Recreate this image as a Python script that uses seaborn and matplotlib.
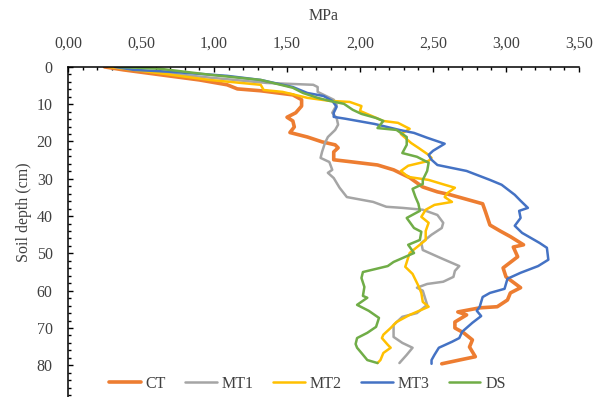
import numpy as np
import pandas as pd
import matplotlib
matplotlib.use("Agg")
import matplotlib.pyplot as plt
import seaborn as sns
from matplotlib.ticker import MultipleLocator, FuncFormatter

# penetration resistance (MPa) against soil depth (cm)
ct_mpa = [0.25, 0.38, 0.63, 0.90, 1.09, 1.16, 1.32, 1.54, 1.60, 1.60, 1.56, 1.50, 1.54, 1.55, 1.52,
          1.64, 1.74, 1.83, 1.85, 1.82, 1.82, 1.93, 2.12, 2.23, 2.34, 2.43, 2.53, 2.62, 2.84, 2.86,
          2.89, 2.96, 3.03, 3.12, 3.05, 3.08, 2.98, 3.00, 3.10, 3.03, 3.01, 2.94, 2.82, 2.67, 2.73,
          2.65, 2.65, 2.71, 2.77, 2.75, 2.79, 2.68, 2.56]
ct_depth = [0, 0.8, 2.1, 3.5, 4.8, 5.9, 6.4, 7.5, 8.8, 10.5, 12.3, 13.5, 14.5, 16.1, 17.6,
            18.8, 20.1, 20.9, 21.7, 22.8, 24.9, 25.4, 26.3, 27.6, 29.7, 32.2, 33.5, 34.3, 36.7, 38.9,
            42.4, 44.0, 45.5, 47.7, 48.3, 50.9, 53.9, 56.3, 59.2, 60.6, 62.5, 64.3, 64.6, 65.7, 66.5,
            68.4, 70.0, 71.3, 73.2, 75.1, 77.7, 78.6, 79.6]

mt1_mpa = [0.30, 0.55, 0.95, 1.36, 1.68, 1.71, 1.71, 1.82, 1.84, 1.81, 1.84, 1.85, 1.83, 1.78,
           1.76, 1.74, 1.73, 1.79, 1.81, 1.78, 1.82, 1.86, 1.91, 2.09, 2.18, 2.29, 2.43, 2.53,
           2.57, 2.56, 2.49, 2.42, 2.43, 2.55, 2.68, 2.65, 2.64, 2.57, 2.46, 2.39, 2.43, 2.46,
           2.39, 2.29, 2.23, 2.23, 2.29, 2.36, 2.32, 2.27]
mt1_depth = [0, 1.2, 2.8, 4.3, 4.8, 5.4, 6.7, 8.8, 10.2, 12.3, 13.7, 15.5, 16.9, 18.8,
             20.4, 22.8, 24.4, 25.5, 27.6, 28.4, 29.8, 32.4, 34.9, 36.2, 37.5, 37.8, 38.3, 39.7,
             41.8, 43.2, 45.0, 47.2, 49.1, 51.2, 53.4, 54.7, 56.3, 57.6, 58.2, 59.2, 60.0, 63.8,
             66.0, 67.0, 69.2, 72.4, 74.0, 75.3, 77.2, 79.4]

mt2_mpa = [0.28, 0.55, 0.97, 1.32, 1.34, 1.47, 1.64, 1.79, 1.93, 2.01, 2.00, 2.16, 2.26, 2.34,
           2.28, 2.35, 2.40, 2.47, 2.49, 2.47, 2.33, 2.28, 2.33, 2.47, 2.58, 2.65, 2.60, 2.58,
           2.63, 2.51, 2.45, 2.42, 2.47, 2.45, 2.45, 2.40, 2.34, 2.31, 2.36, 2.40, 2.42, 2.43,
           2.47, 2.34, 2.25, 2.21, 2.16, 2.15, 2.19, 2.21, 2.16, 2.14, 2.12]
mt2_depth = [0, 1.3, 3.5, 4.8, 6.2, 6.7, 8.3, 9.1, 9.4, 10.5, 11.8, 14.5, 15.0, 16.6,
             18.0, 20.4, 21.7, 23.6, 24.4, 25.2, 26.5, 27.9, 29.5, 30.3, 31.6, 32.4, 33.8, 34.9,
             36.2, 37.0, 38.3, 40.2, 41.8, 44.0, 46.4, 48.0, 49.9, 53.6, 55.5, 58.7, 60.6, 63.0,
             64.3, 66.5, 68.4, 70.0, 71.8, 72.7, 74.5, 75.3, 76.7, 78.6, 79.4]

mt3_mpa = [0.32, 0.45, 0.70, 1.09, 1.32, 1.54, 1.64, 1.75, 1.81, 1.84, 1.82, 1.82, 1.90, 2.10,
           2.27, 2.37, 2.46, 2.58, 2.50, 2.47, 2.49, 2.53, 2.73, 2.89, 2.97, 3.06, 3.10, 3.15,
           3.09, 3.10, 3.06, 3.11, 3.23, 3.28, 3.29, 3.22, 3.10, 3.01, 2.99, 2.89, 2.84, 2.82,
           2.80, 2.83, 2.77, 2.70, 2.68, 2.63, 2.54, 2.51, 2.49, 2.49]
mt3_depth = [0, 0.8, 1.3, 2.4, 3.5, 5.4, 7.0, 7.8, 9.1, 10.7, 12.3, 13.4, 13.9, 15.3,
             16.9, 17.7, 19.0, 20.6, 22.5, 23.6, 24.9, 26.3, 27.9, 30.3, 31.6, 34.3, 35.9, 37.8,
             38.6, 40.5, 42.6, 44.5, 47.2, 48.5, 51.7, 53.4, 55.2, 56.8, 59.5, 60.6, 61.7, 64.3,
             65.4, 66.8, 68.6, 71.0, 72.7, 73.7, 75.3, 77.2, 78.6, 79.6]

ds_mpa = [0.35, 0.63, 0.97, 1.32, 1.54, 1.61, 1.71, 1.79, 1.89, 1.95, 2.01, 2.11, 2.16, 2.12,
          2.25, 2.32, 2.32, 2.29, 2.39, 2.47, 2.46, 2.43, 2.43, 2.36, 2.38, 2.40, 2.41, 2.32,
          2.37, 2.42, 2.41, 2.33, 2.37, 2.23, 2.19, 2.02, 2.01, 2.03, 2.02, 2.05, 1.98, 2.06,
          2.13, 2.11, 2.05, 1.98, 1.97, 1.98, 2.01, 2.05, 2.12]
ds_depth = [0, 0.5, 2.1, 3.5, 5.6, 7.0, 8.3, 9.1, 9.9, 11.5, 12.6, 13.7, 14.5, 16.4,
            16.9, 18.8, 20.9, 23.1, 24.1, 25.7, 27.9, 30.3, 31.4, 32.7, 34.9, 36.7, 38.6, 40.5,
            43.2, 44.2, 46.4, 47.7, 49.9, 52.3, 53.4, 55.0, 56.6, 59.0, 61.4, 61.9, 63.8, 65.4,
            67.3, 69.7, 71.3, 72.7, 74.3, 75.3, 76.7, 78.6, 79.4]

treatments = ["CT", "MT1", "MT2", "MT3", "DS"]
colors = ["#ED7D31", "#A5A5A5", "#FFC000", "#4472C4", "#70AD47"]
widths = [2.6, 1.8, 1.8, 1.8, 1.8]

series = {
    "CT": (ct_mpa, ct_depth),
    "MT1": (mt1_mpa, mt1_depth),
    "MT2": (mt2_mpa, mt2_depth),
    "MT3": (mt3_mpa, mt3_depth),
    "DS": (ds_mpa, ds_depth),
}

sns.set_style("ticks")
plt.rcParams["font.family"] = ["Liberation Serif", "DejaVu Serif"]
text_col = "#404040"

fig = plt.figure(figsize=(6.0, 3.97), dpi=100)
# axes runs past the bottom edge, like the cropped original
ax = fig.add_axes([68 / 600, -0.108, 511 / 600, 0.9395])

for name, col, lw in zip(treatments, colors, widths):
    x, y = series[name]
    df = pd.DataFrame({"MPa": x, "depth": y})
    sns.lineplot(data=df, x="MPa", y="depth", sort=False, estimator=None,
                 color=col, linewidth=lw, label=name, ax=ax)

ax.set_xlim(0, 3.5)
ax.set_ylim(100, 0)
ax.xaxis.tick_top()
ax.xaxis.set_label_position("top")
ax.xaxis.set_major_locator(MultipleLocator(0.5))
ax.xaxis.set_minor_locator(MultipleLocator(0.1))
ax.yaxis.set_major_locator(MultipleLocator(10))
ax.yaxis.set_minor_locator(MultipleLocator(2))
ax.xaxis.set_major_formatter(FuncFormatter(lambda v, p: f"{v:.2f}".replace(".", ",")))

ax.tick_params(axis="both", which="both", direction="in", color="black", width=1.0,
               labelsize=11.5, labelcolor=text_col)
ax.tick_params(axis="both", which="major", length=3.5)
ax.tick_params(axis="both", which="minor", length=2.5)
ax.tick_params(axis="x", which="major", pad=11)
ax.tick_params(axis="y", which="major", pad=11)

for side in ["right", "bottom"]:
    ax.spines[side].set_visible(False)
for side in ["top", "left"]:
    ax.spines[side].set_linewidth(1.1)
    ax.spines[side].set_color("black")

ax.set_xlabel("MPa", fontsize=11.5, color=text_col, labelpad=11)
ax.set_ylabel("Soil depth (cm)", fontsize=11.5, color=text_col)
ax.yaxis.set_label_coords(-0.070, 0.61)

handles, labels = ax.get_legend_handles_labels()
ax.get_legend().remove()
fig.legend(handles, labels, loc="center", bbox_to_anchor=(0.512, 0.034), ncol=5,
           frameon=False, fontsize=11.5, handlelength=2.0, handletextpad=0.3,
           columnspacing=1.2, labelcolor=text_col)

fig.savefig("out.png", dpi=100)
